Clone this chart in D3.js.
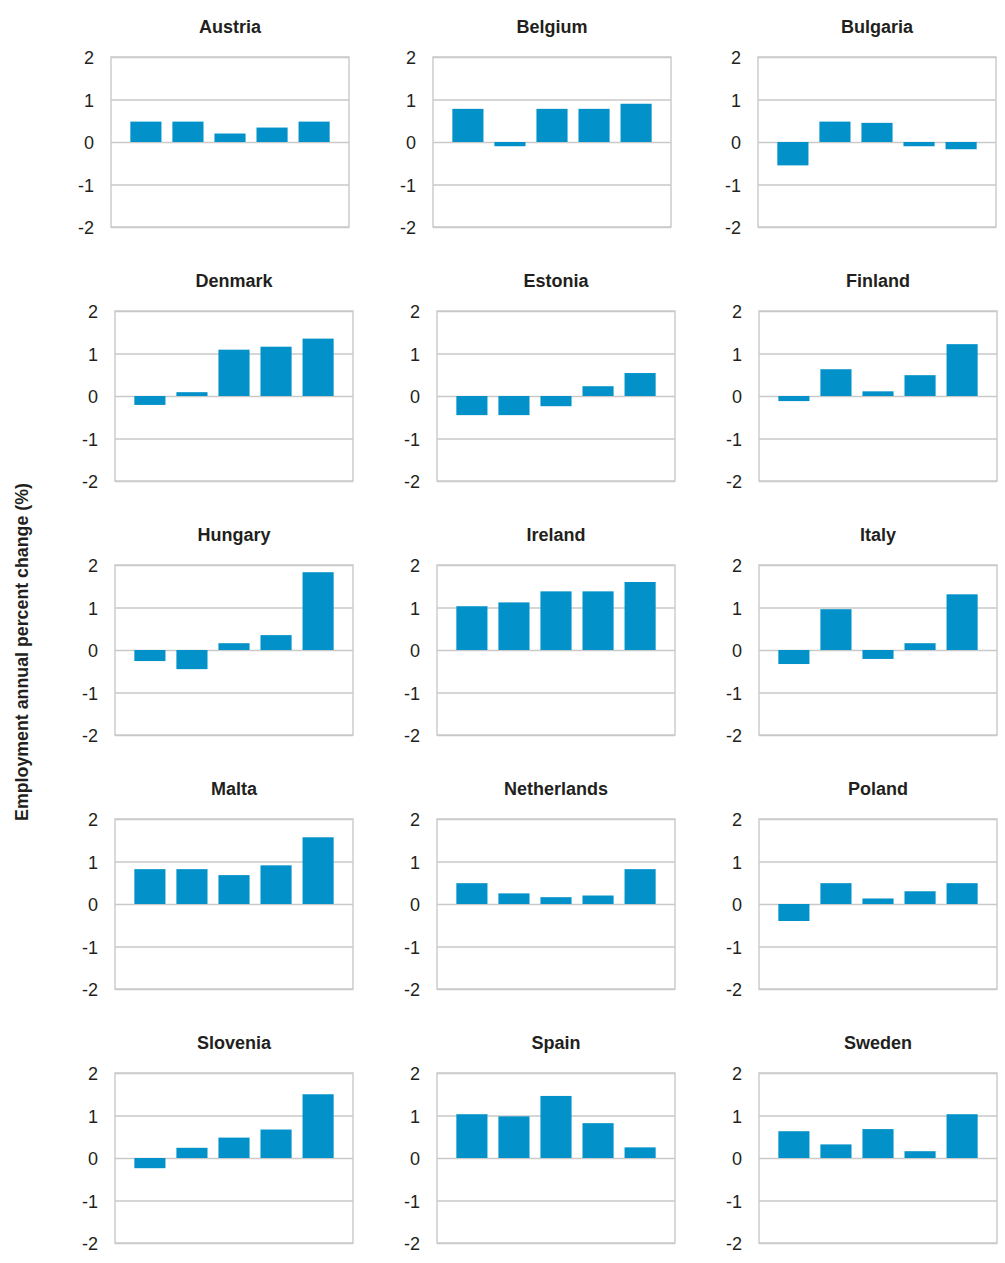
<!DOCTYPE html>
<head>
  <meta charset="utf-8">
  <script src="https://d3js.org/d3.v7.min.js"></script>
  <style>
    body { margin:0; background:#fff; }
    .tick text { font-family: "Liberation Sans", Arial, sans-serif; font-size:18px; fill:#231f20; }
    .title { font-family: "Liberation Sans", Arial, sans-serif; font-weight:bold; font-size:18px; fill:#231f20; }
  </style>
</head>
<body>
<script>

  // data, five bars per country
  var countries = ["Austria","Belgium","Bulgaria","Denmark","Estonia","Finland",
                   "Hungary","Ireland","Italy","Malta","Netherlands","Poland",
                   "Slovenia","Spain","Sweden"];

  var austria     = [0.48, 0.48, 0.20, 0.34, 0.48];
  var belgium     = [0.78, -0.10, 0.78, 0.78, 0.90];
  var bulgaria    = [-0.55, 0.48, 0.45, -0.10, -0.17];
  var denmark     = [-0.21, 0.09, 1.09, 1.16, 1.35];
  var estonia     = [-0.45, -0.45, -0.24, 0.23, 0.54];
  var finland     = [-0.12, 0.63, 0.11, 0.49, 1.22];
  var hungary     = [-0.26, -0.45, 0.16, 0.35, 1.83];
  var ireland     = [1.03, 1.12, 1.38, 1.38, 1.60];
  var italy       = [-0.33, 0.96, -0.21, 0.16, 1.31];
  var malta       = [0.82, 0.82, 0.68, 0.91, 1.57];
  var netherlands = [0.49, 0.25, 0.16, 0.20, 0.82];
  var poland      = [-0.40, 0.49, 0.13, 0.30, 0.49];
  var slovenia    = [-0.24, 0.24, 0.48, 0.67, 1.50];
  var spain       = [1.03, 0.98, 1.46, 0.82, 0.25];
  var sweden      = [0.63, 0.32, 0.68, 0.16, 1.03];

  var series = [austria, belgium, bulgaria, denmark, estonia, finland,
                hungary, ireland, italy, malta, netherlands, poland,
                slovenia, spain, sweden];

  var yTicks = [-2, -1, 0, 1, 2];
  var yTickLabels = ["-2", "-1", "0", "1", "2"];
  var yLabel = "Employment annual percent change (%)";

  var W = 1005, H = 1263;
  var pw = 238, ph = 170;
  var colX = [115, 437, 759];
  var firstRowShift = [-4, -4, -1];
  var rowY = 57, rowStep = 254;
  var barColor = "#0292c9", gridColor = "#c9c9c9";

  var svg = d3.select("body").append("svg")
    .attr("width", W)
    .attr("height", H);

  var x = d3.scaleBand()
    .domain(d3.range(5))
    .range([0, pw])
    .paddingInner(0.26)
    .paddingOuter(0.46);

  var y = d3.scaleLinear()
    .domain([-2, 2])
    .range([ph, 0]);

  countries.forEach(function(name, i) {
    var row = Math.floor(i / 3), col = i % 3;
    var left = colX[col] + (row === 0 ? firstRowShift[col] : 0);
    var top = rowY + row * rowStep;

    var g = svg.append("g")
      .attr("transform", "translate(" + left + "," + top + ")");

    g.append("text")
      .attr("class", "title")
      .attr("x", pw / 2)
      .attr("y", -24)
      .attr("text-anchor", "middle")
      .text(name);

    // gridlines + tick labels
    var axis = g.append("g")
      .call(d3.axisLeft(y)
        .tickValues(yTicks)
        .tickSize(-pw)
        .tickPadding(17)
        .tickFormat(function(d, k) { return yTickLabels[k]; }));
    axis.select(".domain").remove();
    axis.selectAll(".tick line")
      .attr("stroke", gridColor)
      .attr("stroke-width", 1.4);
    axis.selectAll(".tick text")
      .attr("dy", "0.38em")
      .attr("font-size", null)
      .attr("font-family", null);

    g.append("rect")
      .attr("width", pw)
      .attr("height", ph)
      .attr("fill", "none")
      .attr("stroke", gridColor)
      .attr("stroke-width", 1.4);

    g.selectAll(".bar")
      .data(series[i])
      .enter()
      .append("rect")
      .attr("class", "bar")
      .attr("x", function(d, j) { return x(j); })
      .attr("width", x.bandwidth())
      .attr("y", function(d) { return y(Math.max(d, 0)); })
      .attr("height", function(d) { return Math.abs(y(d) - y(0)); })
      .attr("fill", barColor);
  });

  svg.append("text")
    .attr("transform", "translate(28,652) rotate(-90)")
    .attr("text-anchor", "middle")
    .attr("font-family", "Liberation Sans, Arial, sans-serif")
    .attr("font-weight", "bold")
    .attr("font-size", 17.8)
    .attr("fill", "#231f20")
    .text(yLabel);

</script>
</body>
